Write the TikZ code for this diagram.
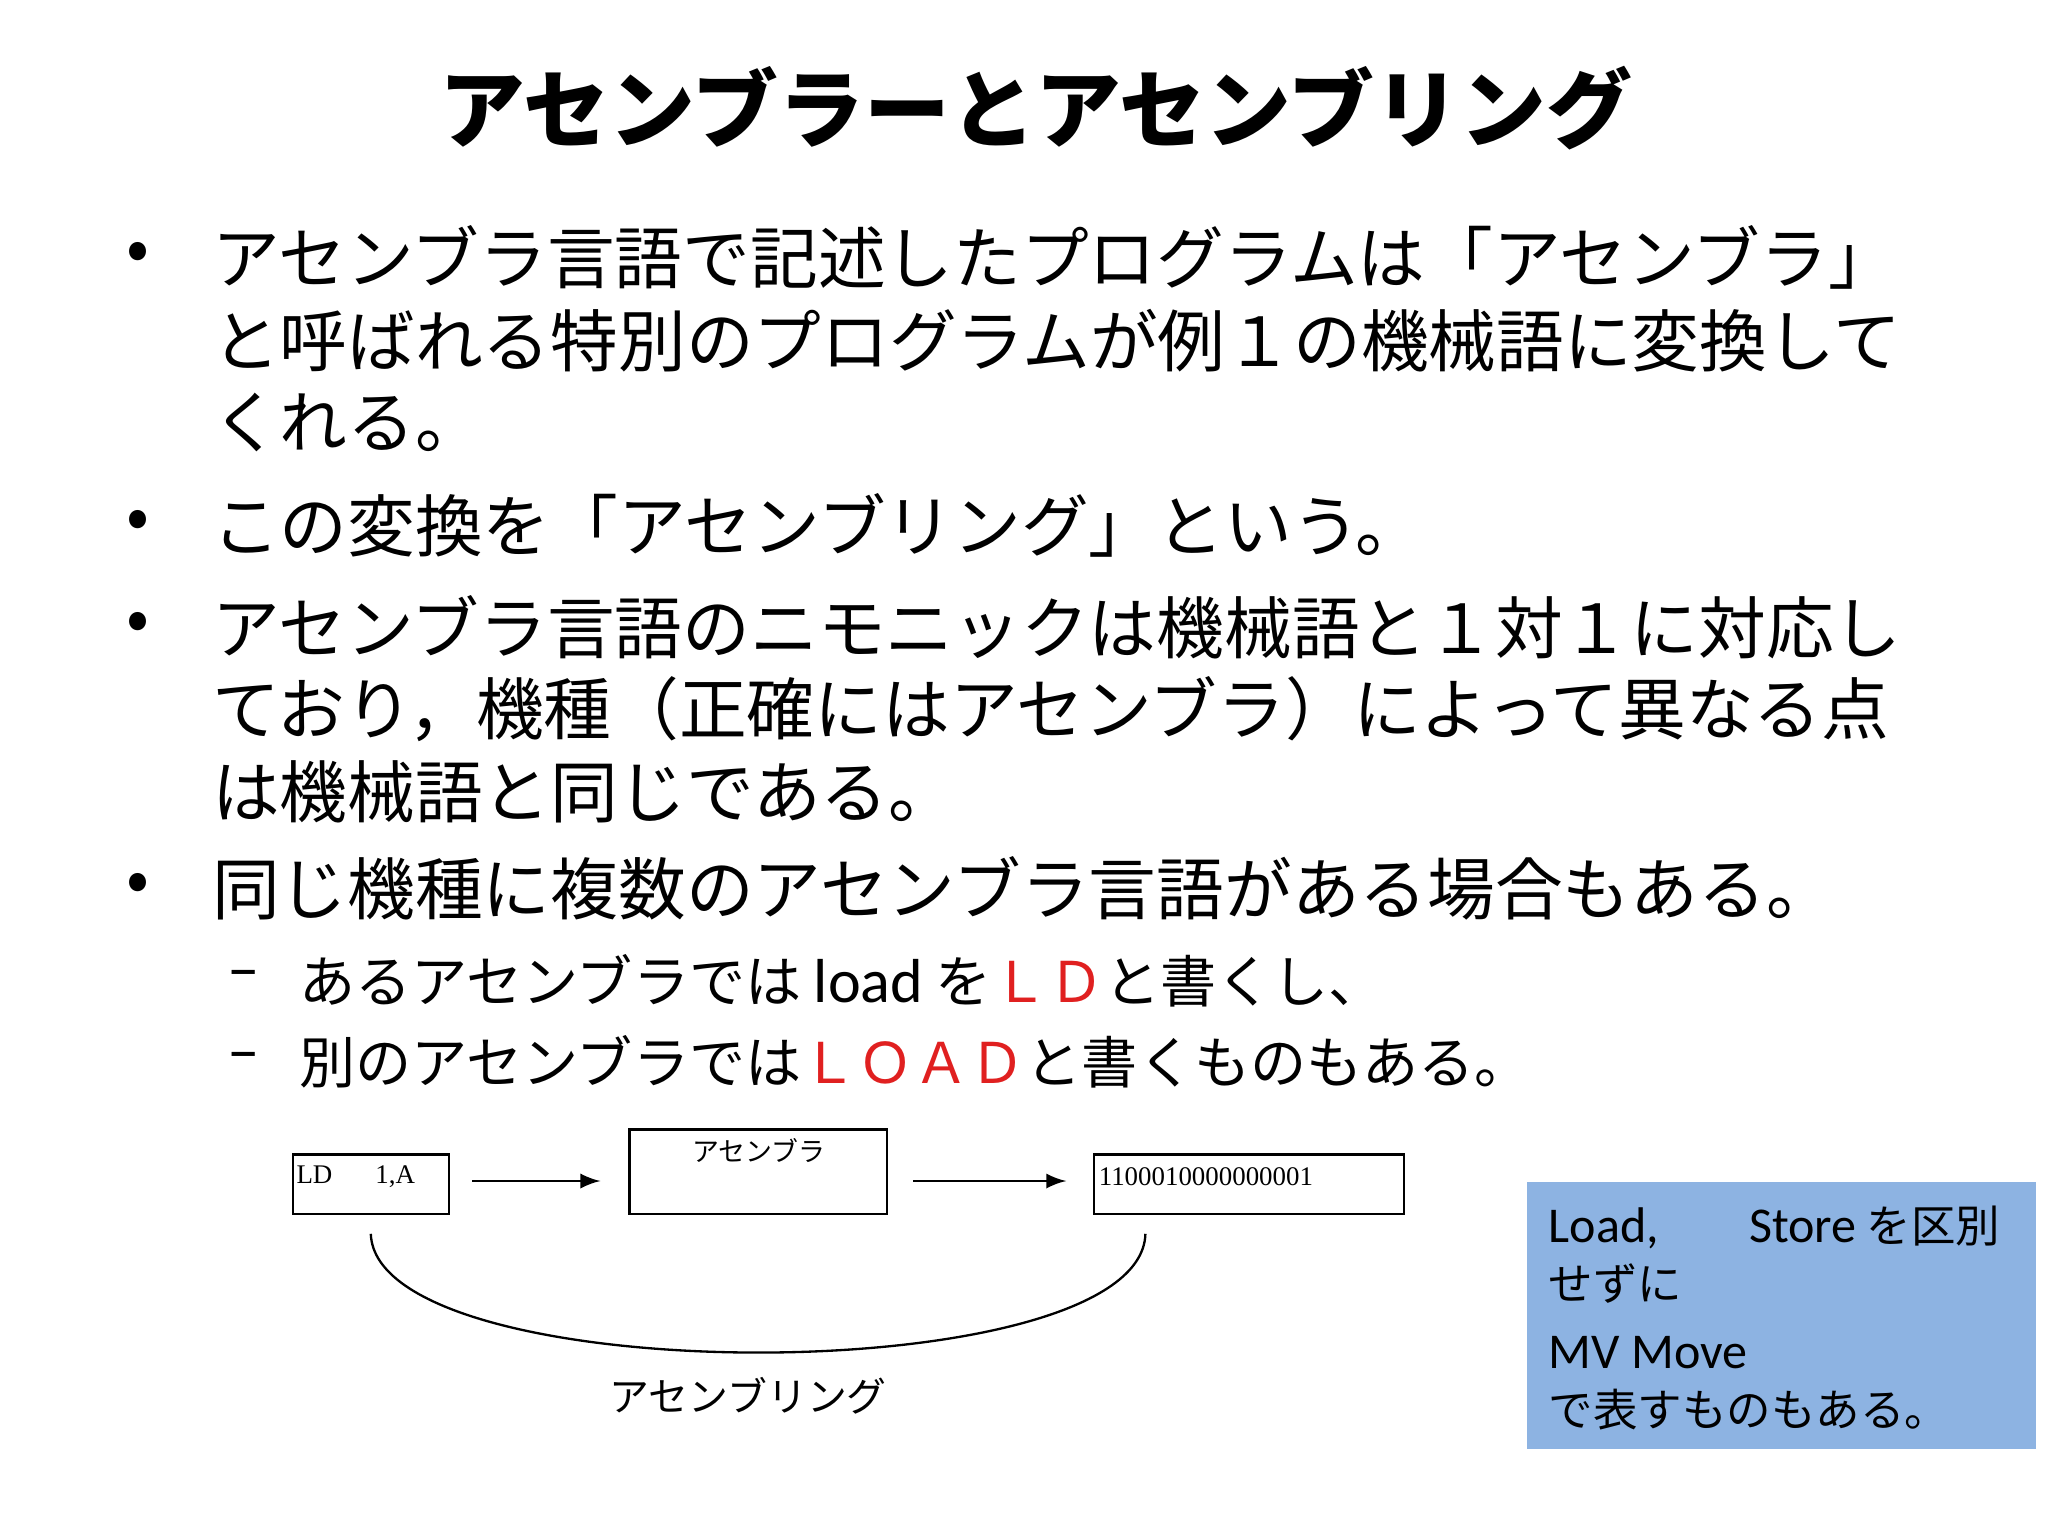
\documentclass[tikz,border=0pt]{standalone}
\usepackage{fontspec}
\newfontfamily\cjk{Noto Sans CJK JP}
\newfontfamily\lat{Carlito}
\newfontfamily\ser{Liberation Serif}
\definecolor{boxblue}{HTML}{8DB3E2}
\definecolor{myred}{HTML}{E02020}
\begin{document}
\begin{tikzpicture}[x=1cm,y=-1cm,
  body/.style={anchor=west,inner sep=0pt,font=\cjk\fontsize{14.6pt}{16pt}\selectfont},
  sub/.style={anchor=west,inner sep=0pt,font=\cjk\fontsize{12.1pt}{13pt}\selectfont},
  blue/.style={anchor=west,inner sep=0pt,font=\cjk\fontsize{9.6pt}{11pt}\selectfont},
  sbox/.style={draw,line width=0.5pt,inner sep=0pt},
  arr/.style={-latex,line width=0.5pt}]
\useasboundingbox (0,0) rectangle (15.52,11.64);
\node[inner sep=0pt,font=\cjk\bfseries\fontsize{18.5pt}{20pt}\selectfont] (title) at (7.85,0.82) {アセンブラーとアセンブリング};
\foreach \y/\n in {1.95/b1,3.98/b2,4.75/b3,6.73/b4}{\node[body] (\n) at (0.95,\y) {•};}
\node[body] (l1) at (1.6,1.95) {アセンブラ言語で記述したプログラムは「アセンブラ」};
\node[body] (l2) at (1.6,2.58) {と呼ばれる特別のプログラムが例１の機械語に変換して};
\node[body] (l3) at (1.6,3.20) {くれる。};
\node[body] (l4) at (1.6,3.98) {この変換を「アセンブリング」という。};
\node[body] (l5) at (1.6,4.75) {アセンブラ言語のニモニックは機械語と１対１に対応し};
\node[body] (l6) at (1.6,5.37) {ており，機種（正確にはアセンブラ）によって異なる点};
\node[body] (l7) at (1.6,6.00) {は機械語と同じである。};
\node[body] (l8) at (1.6,6.73) {同じ機種に複数のアセンブラ言語がある場合もある。};
\node[sub,font=\lat\fontsize{14pt}{14pt}\selectfont] (d1) at (1.72,7.43) {–};
\node[sub,font=\lat\fontsize{14pt}{14pt}\selectfont] (d2) at (1.72,8.05) {–};
\node[sub] (s1) at (2.26,7.43) {あるアセンブラでは {\lat\fontsize{13.4pt}{14pt}\selectfont load} を\textcolor{myred}{ＬＤ}と書くし、};
\node[sub] (s2) at (2.26,8.05) {別のアセンブラでは\textcolor{myred}{ＬＯＡＤ}と書くものもある。};
% diagram
\node[sbox,minimum width=1.18cm,minimum height=0.45cm] (ld) at (2.81,8.975) {};
\node[anchor=west,inner sep=0pt,font=\ser\fontsize{5.8pt}{6pt}\selectfont] (ldt) at (2.24,8.92) {LD\hspace{1.6em}1,A};
\node[sbox,minimum width=1.95cm,minimum height=0.64cm] (as) at (5.745,8.88) {};
\node[inner sep=0pt,font=\cjk\fontsize{5.8pt}{6pt}\selectfont] (ast) at (5.75,8.72) {アセンブラ};
\node[sbox,minimum width=2.35cm,minimum height=0.45cm] (mc) at (9.465,8.975) {};
\node[anchor=west,inner sep=0pt,font=\ser\fontsize{5.8pt}{6pt}\selectfont] (mct) at (8.32,8.92) {1100010000000001};
\coordinate (a1s) at (3.58,8.95); \coordinate (a1e) at (4.55,8.95);
\coordinate (a2s) at (6.92,8.95); \coordinate (a2e) at (8.08,8.95);
\draw[arr] (a1s) -- (a1e);
\draw[arr] (a2s) -- (a2e);
\coordinate (c1) at (2.81,9.35); \coordinate (c2) at (8.68,9.35);
\draw[line width=0.5pt] (c1) .. controls (2.85,10.55) and (8.65,10.55) .. (c2);
\node[inner sep=0pt,font=\cjk\fontsize{8.6pt}{9pt}\selectfont] (asg) at (5.67,10.58) {アセンブリング};
% blue box
\node[fill=boxblue,minimum width=3.86cm,minimum height=2.02cm,inner sep=0pt] (bb) at (13.5,9.97) {};
\node[blue] (t1) at (11.73,9.30) {{\lat\fontsize{10.8pt}{11pt}\selectfont Load,\hspace{1.8em}Store} を区別};
\node[blue] (t2) at (11.73,9.73) {せずに};
\node[blue] (t3) at (11.73,10.25) {{\lat\fontsize{10.8pt}{11pt}\selectfont MV Move}};
\node[blue] (t4) at (11.73,10.68) {で表すものもある。};
\end{tikzpicture}
\end{document}
